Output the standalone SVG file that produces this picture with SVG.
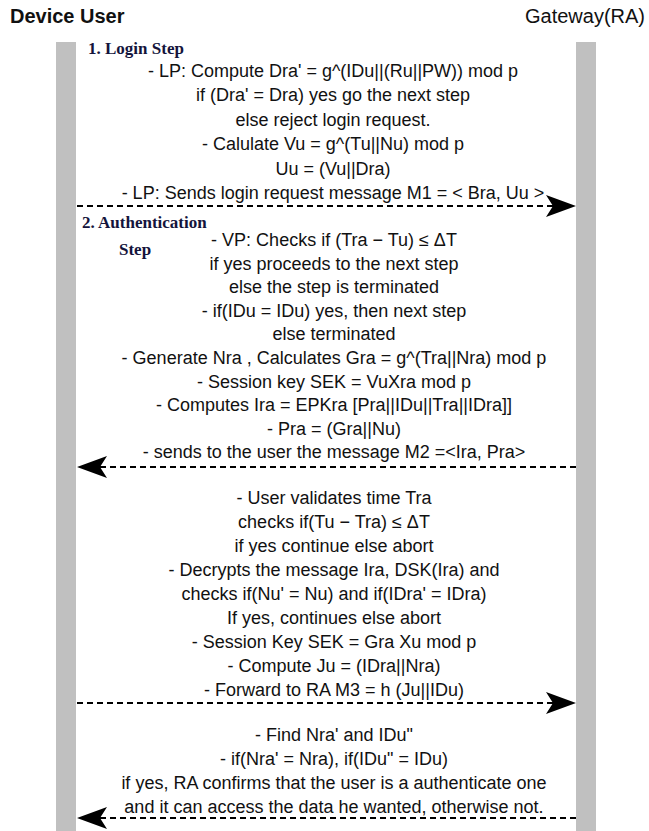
<svg xmlns="http://www.w3.org/2000/svg" width="649" height="831" viewBox="0 0 649 831">
<style>
.hdr{font-family:"Liberation Sans",Arial,sans-serif;font-size:20px;fill:#111}
.ttl{font-family:"Liberation Serif","Times New Roman",serif;font-weight:bold;font-size:17px;fill:#14143c}
.body{font-family:"Liberation Sans",Arial,sans-serif;font-size:18px;fill:#111;text-anchor:middle}
.bar{fill:#c0c0c0}
.msg{stroke:#000;stroke-width:2.2;stroke-dasharray:6 4;fill:none}
.head{fill:#000}
</style>
<rect width="649" height="831" fill="#fff"/>
<g id="device-user">
<text class="hdr" x="10" y="23" font-weight="bold">Device User</text>
<rect class="bar" x="56" y="42" width="20" height="789"/>
</g>
<g id="gateway-ra">
<text class="hdr" x="645" y="23" text-anchor="end">Gateway(RA)</text>
<rect class="bar" x="576" y="42" width="20" height="789"/>
</g>
<g id="login-step">
<text class="ttl" x="88" y="54">1. Login Step</text>
<text class="body" x="333" y="77">- LP: Compute Dra' = g^(IDu||(Ru||PW)) mod p</text>
<text class="body" x="333" y="101">if (Dra' = Dra) yes go the next step</text>
<text class="body" x="333" y="126">else reject login request.</text>
<text class="body" x="333" y="150">- Calulate Vu = g^(Tu||Nu) mod p</text>
<text class="body" x="333" y="175">Uu = (Vu||Dra)</text>
<text class="body" x="333" y="199">- LP: Sends login request message M1 = &lt; Bra, Uu &gt;</text>
</g>
<g id="authentication-step">
<text class="ttl" x="82" y="228">2. Authentication</text>
<text class="ttl" x="119" y="255">Step</text>
<text class="body" x="334" y="246">- VP: Checks if (Tra − Tu) ≤ ΔT</text>
<text class="body" x="334" y="270">if yes proceeds to the next step</text>
<text class="body" x="334" y="293">else the step is terminated</text>
<text class="body" x="334" y="317">- if(IDu = IDu) yes, then next step</text>
<text class="body" x="334" y="340">else terminated</text>
<text class="body" x="334" y="364">- Generate Nra , Calculates Gra = g^(Tra||Nra) mod p</text>
<text class="body" x="334" y="388">- Session key SEK = VuXra mod p</text>
<text class="body" x="334" y="411">- Computes Ira = EPKra [Pra||IDu||Tra||IDra]]</text>
<text class="body" x="334" y="435">- Pra = (Gra||Nu)</text>
<text class="body" x="334" y="458">- sends to the user the message M2 =&lt;Ira, Pra&gt;</text>
</g>
<g id="user-verification">
<text class="body" x="334" y="504">- User validates time Tra</text>
<text class="body" x="334" y="528"> checks if(Tu − Tra) ≤ ΔT</text>
<text class="body" x="334" y="552">if yes continue else abort</text>
<text class="body" x="334" y="576">- Decrypts the message Ira, DSK(Ira) and</text>
<text class="body" x="334" y="600">checks if(Nu' = Nu) and if(IDra' = IDra)</text>
<text class="body" x="334" y="624">If yes, continues else abort</text>
<text class="body" x="334" y="648">- Session Key SEK = Gra Xu mod p</text>
<text class="body" x="334" y="672">- Compute Ju = (IDra||Nra)</text>
<text class="body" x="334" y="696">- Forward to RA M3 = h (Ju||IDu)</text>
</g>
<g id="ra-confirmation">
<text class="body" x="334" y="741">- Find Nra' and IDu"</text>
<text class="body" x="334" y="765">- if(Nra' = Nra), if(IDu" = IDu)</text>
<text class="body" x="334" y="789">if yes, RA confirms that the user is a authenticate one</text>
<text class="body" x="334" y="813">and it can access the data he wanted, otherwise not.</text>
</g>
<g id="connectors">
<line class="msg" x1="77" y1="206" x2="556" y2="206"/>
<path class="head" d="M576,206 L546,195 L553,206 L546,217 Z"/>
<line class="msg" x1="576" y1="467" x2="97" y2="467"/>
<path class="head" d="M77,467 L107,456 L100,467 L107,478 Z"/>
<line class="msg" x1="77" y1="703" x2="556" y2="703"/>
<path class="head" d="M576,703 L546,692 L553,703 L546,714 Z"/>
<line class="msg" x1="576" y1="818" x2="97" y2="818"/>
<path class="head" d="M77,818 L107,807 L100,818 L107,829 Z"/>
</g>
</svg>
